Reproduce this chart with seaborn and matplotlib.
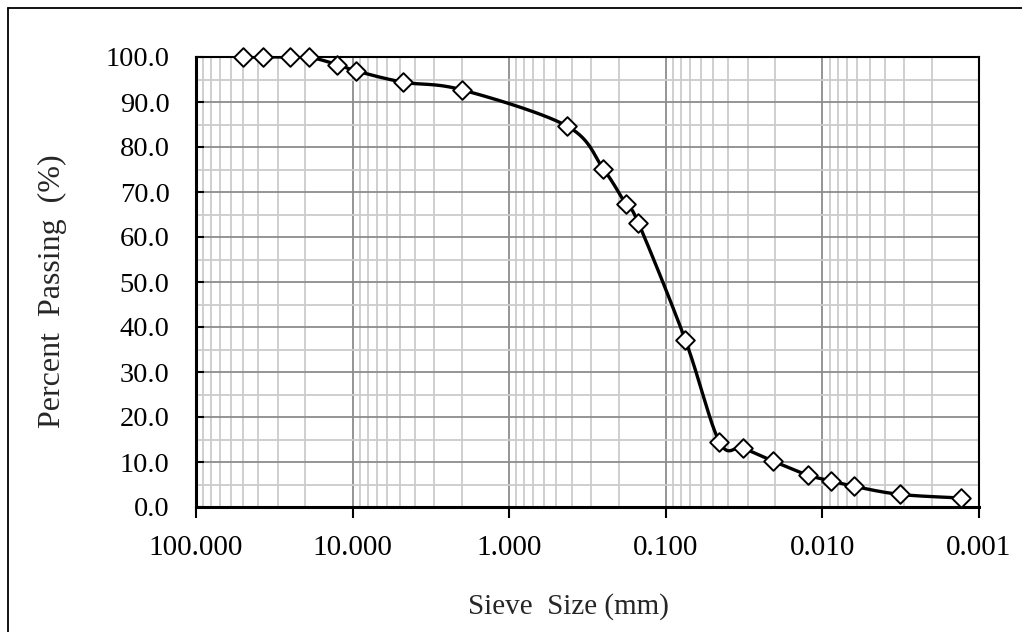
import numpy as np
import pandas as pd
import matplotlib
matplotlib.use("Agg")
import matplotlib.pyplot as plt
import matplotlib.ticker as mticker
from matplotlib.lines import Line2D
import seaborn as sns

# ---- data ----
sieve_size_mm = [50, 37.5, 25, 19, 12.5, 9.5, 4.75, 2.0, 0.425, 0.25, 0.18, 0.15,
                 0.075, 0.0455, 0.0323, 0.0207, 0.0124, 0.0088, 0.0063, 0.0032, 0.0013]
percent_passing = [100, 100, 100, 100, 98.3, 96.9, 94.4, 92.7, 84.6, 75.1, 67.3, 63.2,
                   37.1, 14.5, 13.1, 10.2, 7.1, 5.8, 4.6, 2.8, 2.0]
x_tick_values = [100, 10, 1, 0.1, 0.01, 0.001]
x_tick_labels = ["100.000", "10.000", "1.000", "0.100", "0.010", "0.001"]
y_tick_values = [0, 10, 20, 30, 40, 50, 60, 70, 80, 90, 100]
y_tick_labels = ["%.1f" % v for v in y_tick_values]
x_label = "Sieve  Size (mm)"
y_label = "Percent  Passing  (%)"

df = pd.DataFrame({"size": sieve_size_mm, "passing": percent_passing})

# Excel-style smoothed line (Bezier with 1/6 tension) in (log x, y) space
def smooth_curve(xs, ys, n=30):
    u = np.log10(np.asarray(xs, float))
    v = np.asarray(ys, float)
    P = np.column_stack([u, v])
    out = []
    m = len(P)
    for i in range(m - 1):
        p0 = P[i - 1] if i > 0 else P[i]
        p1 = P[i]
        p2 = P[i + 1]
        p3 = P[i + 2] if i + 2 < m else P[i + 1]
        c1 = p1 + (p2 - p0) / 6.0
        c2 = p2 - (p3 - p1) / 6.0
        t = np.linspace(0, 1, n)[:, None]
        seg = ((1 - t) ** 3) * p1 + 3 * ((1 - t) ** 2) * t * c1 + 3 * (1 - t) * t ** 2 * c2 + t ** 3 * p2
        out.append(seg if i == 0 else seg[1:])
    S = np.vstack(out)
    return 10 ** S[:, 0], S[:, 1]

sx, sy = smooth_curve(sieve_size_mm, percent_passing)
smooth_df = pd.DataFrame({"size": sx, "passing": sy})

sns.set_style("white")
plt.rcParams["font.family"] = ["Liberation Serif", "DejaVu Serif"]

W, H = 1022, 632
fig = plt.figure(figsize=(W / 100, H / 100), dpi=100)
ax = fig.add_axes([196 / W, 1 - 507 / H, (979 - 196) / W, (507 - 57) / H])

ax.set_xscale("log")
ax.set_xlim(100, 0.001)
ax.set_ylim(0, 100)

# grid
ax.xaxis.set_major_locator(mticker.FixedLocator(x_tick_values))
ax.xaxis.set_minor_locator(mticker.LogLocator(base=10, subs=np.arange(2, 10), numticks=20))
ax.yaxis.set_major_locator(mticker.FixedLocator(y_tick_values))
ax.yaxis.set_minor_locator(mticker.MultipleLocator(5))
ax.grid(which="minor", color="#cccccc", lw=1.3, zorder=0)
ax.grid(which="major", color="#8c8c8c", lw=1.3, zorder=0.5)
ax.set_axisbelow(True)

sns.lineplot(data=smooth_df, x="size", y="passing", sort=False, estimator=None,
             color="black", lw=2.4, ax=ax, zorder=3)
sns.scatterplot(data=df, x="size", y="passing", marker="D", s=90, color="white",
                edgecolor="black", linewidth=1.4, ax=ax, zorder=4, clip_on=False)

ax.set_xticks(x_tick_values)
ax.set_xticklabels(x_tick_labels)
ax.set_yticks(y_tick_values)
ax.set_yticklabels(y_tick_labels)
ax.xaxis.set_minor_formatter(mticker.NullFormatter())

ax.tick_params(axis="x", which="major", direction="out", length=8, width=1.5,
               labelsize=21, pad=12, colors="black")
ax.tick_params(axis="x", which="minor", length=0)
ax.tick_params(axis="y", which="major", direction="in", length=6, width=1.5,
               labelsize=20.5, pad=19, colors="black")
ax.tick_params(axis="y", which="minor", direction="in", length=5, width=1.5)
ax.tick_params(left=True, bottom=True)

for side in ["left", "bottom"]:
    ax.spines[side].set_linewidth(2.2)
    ax.spines[side].set_color("black")
for side in ["top", "right"]:
    ax.spines[side].set_linewidth(1.5)
    ax.spines[side].set_color("black")
    ax.spines[side].set_visible(True)

ax.set_xlabel(x_label, fontsize=21)
ax.xaxis.set_label_coords((568 - 196) / 783, (507 - 593) / 450)
ax.set_ylabel(y_label, fontsize=23)
ax.yaxis.set_label_coords((67 - 196) / 783, (507 - 291) / 450)

# outer chart border (left and top visible)
x0 = 7.5 / W
y0 = 1 - 7.5 / H
fig.add_artist(Line2D([x0, x0], [0, y0], transform=fig.transFigure, color="black", lw=1.3))
fig.add_artist(Line2D([x0, 1.0], [y0, y0], transform=fig.transFigure, color="black", lw=1.3))

fig.savefig("out.png", dpi=100)
